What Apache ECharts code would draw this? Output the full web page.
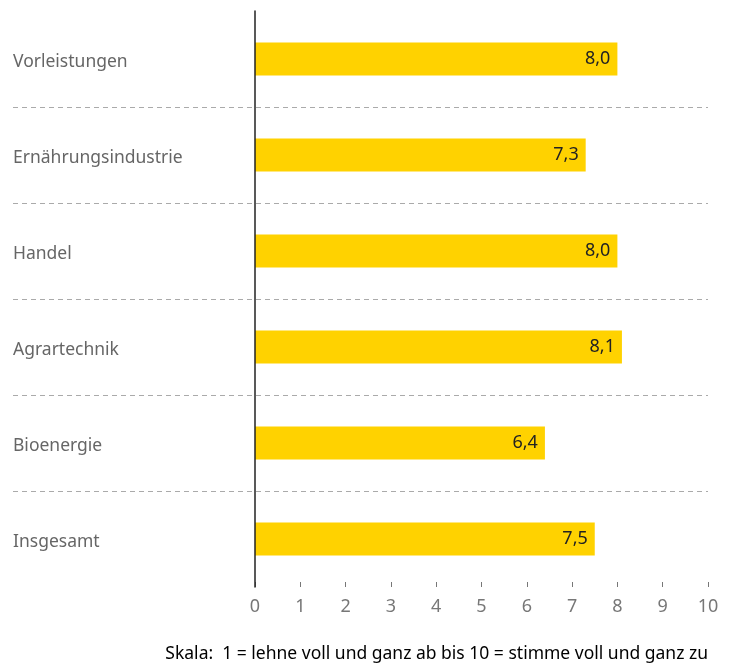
<!DOCTYPE html>
<html>
<head>
<meta charset="utf-8">
<script src="https://cdn.jsdelivr.net/npm/echarts@6/dist/echarts.min.js"></script>
<style>
  html, body { margin: 0; padding: 0; background: #fff; }
  #chart { width: 735px; height: 664px; }
</style>
</head>
<body>
<div id="chart"></div>
<script>
var categories = ['Vorleistungen', 'Ernährungsindustrie', 'Handel', 'Agrartechnik', 'Bioenergie', 'Insgesamt']
var values = [8.0, 7.3, 8.0, 8.1, 6.4, 7.5]
var xTicks = [0, 1, 2, 3, 4, 5, 6, 7, 8, 9, 10]

var chart = echarts.init(document.getElementById('chart'))
var font = '"Noto Sans", sans-serif'

chart.setOption({
  animation: false,
  textStyle: { fontFamily: font },
  grid: [
    { left: 255, right: 27, top: 11, height: 576 },
    // overlay grid only for the dashed separators (they reach the left edge)
    { left: 13, right: 27, top: 11, height: 576 }
  ],
  xAxis: [{
    gridIndex: 0,
    type: 'value',
    min: xTicks[0],
    max: xTicks[xTicks.length - 1],
    interval: 1,
    axisLine: { show: false },
    axisTick: { show: true, inside: true, length: 5, lineStyle: { color: '#777' } },
    splitLine: { show: false },
    axisLabel: { color: '#777', fontSize: 18, margin: 11, fontFamily: font }
  }, {
    gridIndex: 1,
    type: 'value',
    show: false
  }],
  yAxis: [{
    gridIndex: 0,
    type: 'category',
    inverse: true,
    data: categories,
    z: 5,
    axisLine: { show: true, lineStyle: { color: '#222', width: 1.5 } },
    axisTick: { show: false },
    splitLine: { show: false },
    axisLabel: {
      align: 'left',
      margin: 242,
      formatter: function (v) { return '{c|' + v + '}' },
      rich: {
        c: { color: '#666', fontSize: 17.5, fontFamily: font, padding: [6, 0, 0, 0] }
      }
    }
  }, {
    gridIndex: 1,
    type: 'value',
    min: 0,
    max: categories.length,
    interval: 1,
    axisLine: { show: false },
    axisTick: { show: false },
    axisLabel: { show: false },
    splitLine: {
      show: true,
      showMinLine: false,
      showMaxLine: false,
      lineStyle: { color: '#aaa', type: [5, 4], width: 1 }
    }
  }],
  series: [{
    type: 'bar',
    xAxisIndex: 0,
    yAxisIndex: 0,
    data: values,
    barWidth: 33,
    z: 3,
    itemStyle: { color: '#FFD200' },
    label: {
      show: true,
      position: 'insideRight',
      distance: 7,
      color: '#222',
      fontSize: 18,
      fontFamily: font,
      formatter: function (p) { return p.value.toFixed(1).replace('.', ',') }
    }
  }],
  graphic: [{
    type: 'text',
    right: 27,
    top: 645,
    style: {
      text: '{l|Skala:}  {d|1 = lehne voll und ganz ab} {l|bis} {d|10 = stimme voll und ganz zu}',
      fontFamily: font,
      fontSize: 17.5,
      rich: {
        l: { color: '#999', fontSize: 17.5, fontFamily: font },
        d: { color: '#5a5a5a', fontSize: 17.5, fontFamily: font }
      }
    }
  }]
})
</script>
</body>
</html>
